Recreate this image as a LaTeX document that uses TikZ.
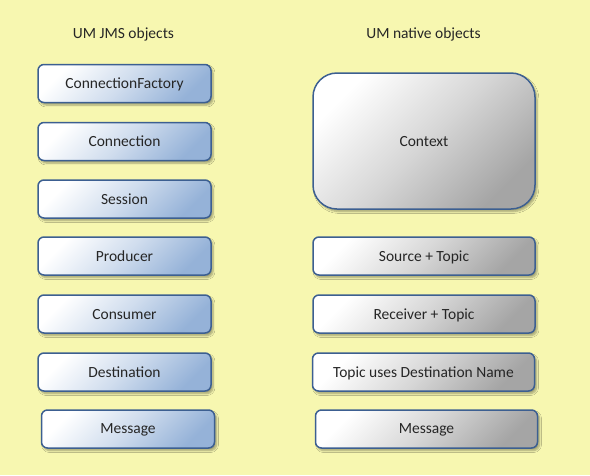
\documentclass[tikz,border=0pt]{standalone}
\usepackage{fontspec}
\setmainfont{Carlito}
\usetikzlibrary{shadows.blur}
\definecolor{bg}{RGB}{247,247,176}
\definecolor{edge}{RGB}{60,95,145}
\definecolor{jmsblue}{RGB}{149,178,216}
\definecolor{natgray}{RGB}{165,165,165}
\tikzset{
  base/.style={draw=edge, line width=1.5pt, rounded corners=6pt,
    minimum height=38pt, inner sep=0pt, text depth=0pt, yshift=-1pt,
    font=\fontsize{15.5}{18}\selectfont, text=black!85,
    blur shadow={shadow xshift=2pt, shadow yshift=-2.5pt, shadow blur steps=6, shadow opacity=35}},
  jms/.style={base, minimum width=173pt, top color=white, bottom color=jmsblue,
    middle color=white!55!jmsblue, shading angle=45},
  nat/.style={base, minimum width=222pt, top color=white, bottom color=natgray,
    middle color=white!55!natgray, shading angle=45},
  hdr/.style={font=\fontsize{15.5}{18}\selectfont, text=black!85, inner sep=0pt}
}
\begin{document}
\begin{tikzpicture}[x=1pt,y=-1pt]
\fill[bg] (0,0) rectangle (590,475);
\useasboundingbox (0,0) rectangle (590,475);
\node[hdr] (h1) at (123.5,34) {UM JMS objects};
\node[hdr] (h2) at (423.5,34) {UM native objects};
\node[jms] (cf) at (124.5,82.5) {ConnectionFactory};
\node[jms] (conn) at (124.5,140.5) {Connection};
\node[jms] (sess) at (124.5,198) {Session};
\node[jms] (prod) at (124.5,255) {Producer};
\node[jms] (cons) at (124.5,313) {Consumer};
\node[jms] (dest) at (124.5,371) {Destination};
\node[jms] (msg) at (128,428) {Message};
\node[nat, minimum height=136pt, rounded corners=24pt] (ctx) at (424,140) {Context};
\node[nat] (src) at (424,255) {Source + Topic};
\node[nat] (rcv) at (424,313) {Receiver + Topic};
\node[nat] (tud) at (423.5,371) {Topic uses Destination Name};
\node[nat] (nmsg) at (426.5,428) {Message};
\end{tikzpicture}
\end{document}
